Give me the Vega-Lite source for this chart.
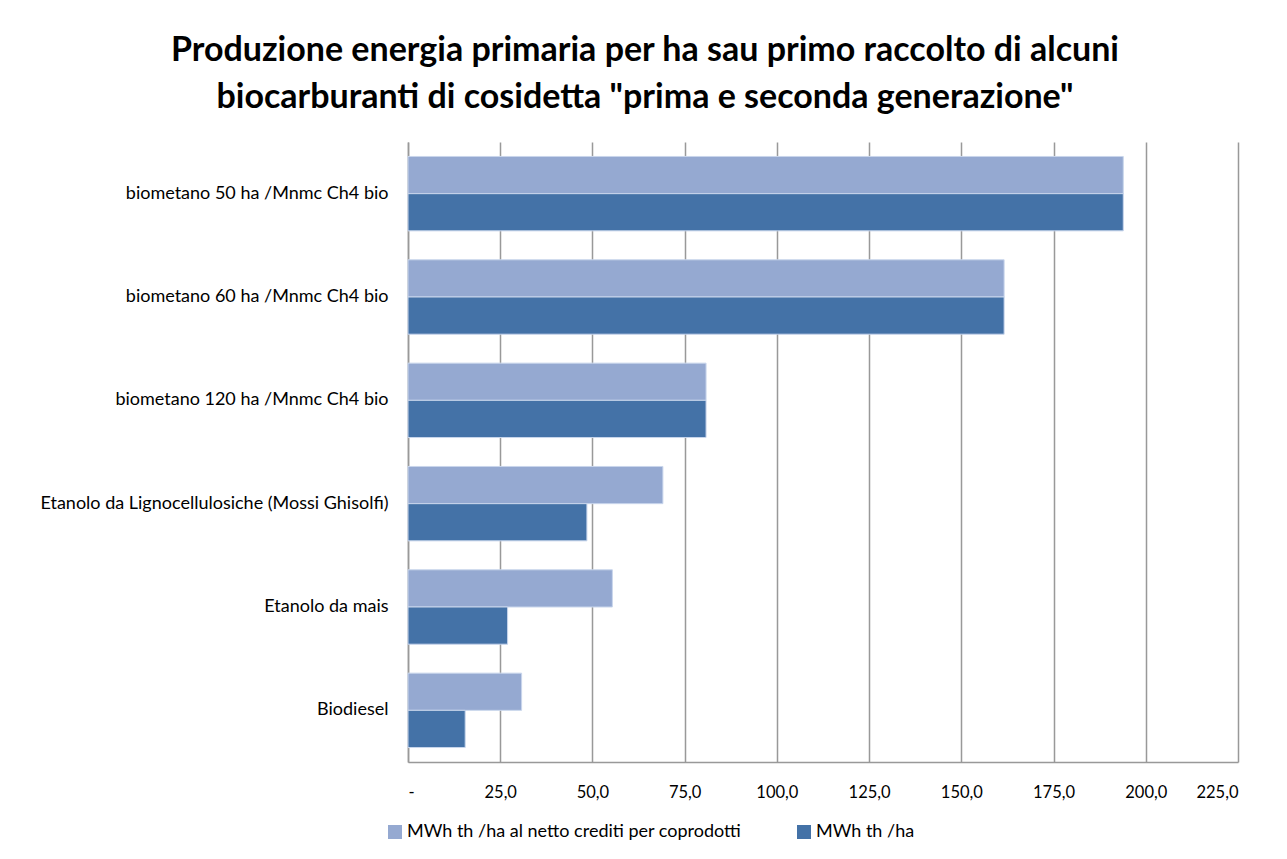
{
  "$schema": "https://vega.github.io/schema/vega-lite/v6.json",
  "autosize": "none",
  "width": 830,
  "height": 620,
  "padding": {"left": 408, "top": 142, "right": 49, "bottom": 97},
  "background": "white",
  "title": {
    "text": ["Produzione energia primaria per ha sau primo raccolto di alcuni", "biocarburanti  di cosidetta \"prima e seconda generazione\""],
    "font": "Lato",
    "fontSize": 34,
    "fontWeight": "bold",
    "color": "#000000",
    "lineHeight": 47,
    "anchor": "middle",
    "dx": -178,
    "offset": 27
  },
  "data": {
    "values": [
      {"categoria": "biometano 50 ha /Mnmc Ch4 bio", "serie": "MWh th /ha al netto crediti per coprodotti", "valore": 193.9},
      {"categoria": "biometano 50 ha /Mnmc Ch4 bio", "serie": "MWh th /ha", "valore": 193.9},
      {"categoria": "biometano 60 ha /Mnmc Ch4 bio", "serie": "MWh th /ha al netto crediti per coprodotti", "valore": 161.6},
      {"categoria": "biometano 60 ha /Mnmc Ch4 bio", "serie": "MWh th /ha", "valore": 161.6},
      {"categoria": "biometano 120 ha /Mnmc Ch4 bio", "serie": "MWh th /ha al netto crediti per coprodotti", "valore": 80.8},
      {"categoria": "biometano 120 ha /Mnmc Ch4 bio", "serie": "MWh th /ha", "valore": 80.8},
      {"categoria": "Etanolo da Lignocellulosiche  (Mossi Ghisolfi)", "serie": "MWh th /ha al netto crediti per coprodotti", "valore": 69.1},
      {"categoria": "Etanolo da Lignocellulosiche  (Mossi Ghisolfi)", "serie": "MWh th /ha", "valore": 48.5},
      {"categoria": "Etanolo da mais", "serie": "MWh th /ha al netto crediti per coprodotti", "valore": 55.4},
      {"categoria": "Etanolo da mais", "serie": "MWh th /ha", "valore": 27.0},
      {"categoria": "Biodiesel", "serie": "MWh th /ha al netto crediti per coprodotti", "valore": 30.8},
      {"categoria": "Biodiesel", "serie": "MWh th /ha", "valore": 15.5}
    ]
  },
  "mark": {"type": "bar", "stroke": "#C9D6EC", "strokeWidth": 1},
  "encoding": {
    "y": {
      "field": "categoria",
      "type": "nominal",
      "sort": null,
      "scale": {"paddingInner": 0.28, "paddingOuter": 0.14},
      "axis": {
        "title": null,
        "labelFont": "Lato",
        "labelFontSize": 18,
        "labelColor": "#000000",
        "labelPadding": 20,
        "ticks": false,
        "domain": true,
        "domainColor": "#999999",
        "domainWidth": 1.5,
        "labelLimit": 0
      }
    },
    "yOffset": {
      "field": "serie",
      "type": "nominal",
      "sort": ["MWh th /ha al netto crediti per coprodotti", "MWh th /ha"],
      "scale": {"paddingInner": 0, "paddingOuter": 0}
    },
    "x": {
      "field": "valore",
      "type": "quantitative",
      "scale": {"domain": [0, 225], "nice": false},
      "axis": {
        "title": null,
        "values": [0, 25, 50, 75, 100, 125, 150, 175, 200, 225],
        "labelExpr": "datum.value == 0 ? '-' : replace(format(datum.value, '.1f'), '.', ',')",
        "labelFont": "Lato",
        "labelFontSize": 16.5,
        "labelColor": "#000000",
        "labelPadding": 22,
        "ticks": false,
        "grid": true,
        "gridColor": "#999999",
        "gridWidth": 1.5,
        "domainColor": "#999999",
        "domainWidth": 1.5
      }
    },
    "color": {
      "field": "serie",
      "type": "nominal",
      "sort": ["MWh th /ha al netto crediti per coprodotti", "MWh th /ha"],
      "scale": {
        "domain": ["MWh th /ha al netto crediti per coprodotti", "MWh th /ha"],
        "range": ["#95A9D1", "#4472A7"]
      },
      "legend": {
        "title": null,
        "orient": "none",
        "legendX": -22,
        "legendY": 681,
        "direction": "horizontal",
        "symbolType": "square",
        "symbolSize": 196,
        "symbolStrokeWidth": 0,
        "labelFont": "Lato",
        "labelFontSize": 18,
        "labelColor": "#000000",
        "labelOffset": 3,
        "columnPadding": 53,
        "labelLimit": 0
      }
    }
  },
  "config": {
    "view": {"stroke": null}
  }
}
